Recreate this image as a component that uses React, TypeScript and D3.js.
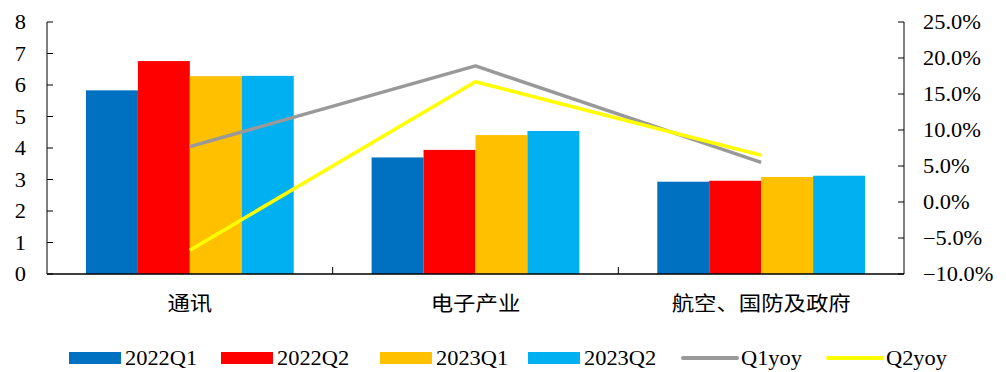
import React from "react";
import * as d3 from "d3";

const categories = ["通讯", "电子产业", "航空、国防及政府"];
const seriesNames = ["2022Q1", "2022Q2", "2023Q1", "2023Q2"];
const v2022Q1 = [5.83, 3.7, 2.93];
const v2022Q2 = [6.76, 3.94, 2.96];
const v2023Q1 = [6.28, 4.41, 3.08];
const v2023Q2 = [6.29, 4.54, 3.12];
const q1yoy = [7.7, 18.9, 5.5];
const q2yoy = [-6.7, 16.7, 6.5];
const leftTicks = [0, 1, 2, 3, 4, 5, 6, 7, 8];
const rightTicks = [-10, -5, 0, 5, 10, 15, 20, 25];

const barColors = ["#0070C0", "#FF0000", "#FFC000", "#00B0F0"];
const lineColors = ["#999999", "#FFFF00"];
const lineNames = ["Q1yoy", "Q2yoy"];

const W = 1006;
const H = 372;
const L = 47;
const R = 904;
const T = 22;
const B = 274;
const FONT = "'Liberation Serif', 'Times New Roman', 'Noto Sans CJK SC', serif";
const SX = 1.12;

function Txt({ x, y, children, anchor = "start", size = 20 }: any) {
  return (
    <text
      transform={`translate(${x},${y}) scale(${SX},1)`}
      textAnchor={anchor}
      fontFamily={FONT}
      fontSize={size}
      fill="#000"
    >
      {children}
    </text>
  );
}

export default function App() {
  const barData = [v2022Q1, v2022Q2, v2023Q1, v2023Q2];
  const lineData = [q1yoy, q2yoy];
  const x0 = d3.scaleBand<string>().domain(categories).range([L, R]).padding(0);
  const x1 = d3
    .scaleBand<string>()
    .domain(seriesNames)
    .range([0, x0.bandwidth()])
    .paddingInner(0)
    .paddingOuter(0.75);
  const yL = d3.scaleLinear().domain([0, 8]).range([B, T]);
  const yR = d3.scaleLinear().domain([-10, 25]).range([B, T]);
  const cx = (c: string) => (x0(c) as number) + x0.bandwidth() / 2;
  const lineGen = d3
    .line<number>()
    .x((_, i) => cx(categories[i]))
    .y((d) => yR(d));

  const legendStarts = [69, 221, 380, 528, 683, 828];

  return (
    <svg
      width={W}
      height={H}
      style={{ position: "absolute", left: 0, top: 0, background: "#fff" }}
    >
      {/* bars */}
      {barData.map((vals, si) =>
        vals.map((v, ci) => (
          <rect
            key={`${si}-${ci}`}
            x={(x0(categories[ci]) as number) + (x1(seriesNames[si]) as number)}
            y={yL(v)}
            width={x1.bandwidth()}
            height={yL(0) - yL(v)}
            fill={barColors[si]}
          />
        ))
      )}
      {/* axes */}
      <line x1={L} x2={L} y1={T} y2={B} stroke="#000" strokeWidth={1} />
      <line x1={R} x2={R} y1={T} y2={B} stroke="#000" strokeWidth={1} />
      <line x1={L} x2={R} y1={B} y2={B} stroke="#000" strokeWidth={1.5} />
      {leftTicks.map((t) => (
        <g key={`l${t}`}>
          <line x1={L} x2={L + 6} y1={yL(t)} y2={yL(t)} stroke="#000" />
          <Txt x={26} y={yL(t) + 7} anchor="end">
            {t}
          </Txt>
        </g>
      ))}
      {rightTicks.map((t) => (
        <g key={`r${t}`}>
          <line x1={R - 6} x2={R} y1={yR(t)} y2={yR(t)} stroke="#000" />
          <Txt x={923} y={yR(t) + 7}>
            {d3.format(".1f")(t) + "%"}
          </Txt>
        </g>
      ))}
      {categories.slice(1).map((c) => (
        <line
          key={`ct${c}`}
          x1={x0(c) as number}
          x2={x0(c) as number}
          y1={B}
          y2={B - 7}
          stroke="#000"
        />
      ))}
      {categories.map((c) => (
        <Txt key={`cl${c}`} x={cx(c)} y={311} anchor="middle">
          {c}
        </Txt>
      ))}
      {/* lines */}
      {lineData.map((vals, li) => (
        <path
          key={`line${li}`}
          d={lineGen(vals) || ""}
          fill="none"
          stroke={lineColors[li]}
          strokeWidth={3.5}
          strokeLinejoin="round"
        />
      ))}
      {/* legend */}
      {seriesNames.map((s, i) => (
        <g key={`lg${s}`}>
          <rect x={legendStarts[i]} y={352} width={52} height={12} fill={barColors[i]} />
          <Txt x={legendStarts[i] + 56} y={365}>
            {s}
          </Txt>
        </g>
      ))}
      {lineNames.map((s, i) => (
        <g key={`ll${s}`}>
          <line
            x1={legendStarts[4 + i]}
            x2={legendStarts[4 + i] + 54}
            y1={358}
            y2={358}
            stroke={lineColors[i]}
            strokeWidth={4}
            strokeLinecap="round"
          />
          <Txt x={legendStarts[4 + i] + 58} y={365}>
            {s}
          </Txt>
        </g>
      ))}
    </svg>
  );
}
